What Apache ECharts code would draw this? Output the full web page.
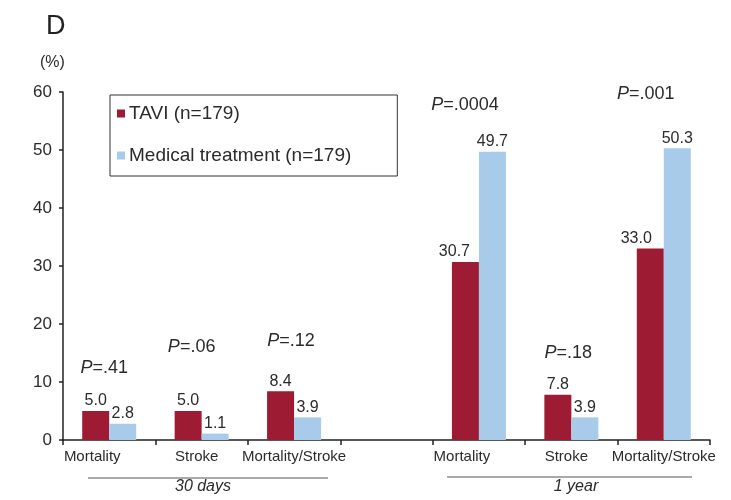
<!DOCTYPE html>
<html>
<head>
<meta charset="utf-8">
<script src="https://cdn.jsdelivr.net/npm/echarts@6/dist/echarts.min.js"></script>
<style>
  html, body { margin: 0; padding: 0; background: #fff; }
  #chart { width: 731px; height: 500px; }
</style>
</head>
<body>
<div id="chart"></div>
<script>
// categories (the empty one is the gap between the two time groups)
const categories = ['Mortality', 'Stroke', 'Mortality/Stroke', '', 'Mortality', 'Stroke', 'Mortality/Stroke']
const tavi = [5.0, 5.0, 8.4, null, 30.7, 7.8, 33.0]
const medical = [2.8, 1.1, 3.9, null, 49.7, 3.9, 50.3]
const pText = ['.41', '.06', '.12', null, '.0004', '.18', '.001']
const pHeight = [12.4, 16.0, 17.1, null, 57.8, 15.0, 59.6]
const yTicks = [0, 10, 20, 30, 40, 50, 60]

// small nudges for labels so they sit like in the figure
const pShift = [-5, -10, -3, 0, -14, -3, -18]
const taviLabelShift = [0, 0, 0, 0, -11, 0, -14]
const catPad = [34, 10, 0, 0, 34, 10, 0]

const RED = '#9e1b34'
const BLUE = '#a9cbea'
const TXT = '#2b2b2b'

const chart = echarts.init(document.getElementById('chart'))

const pData = []
pHeight.forEach((v, i) => {
  if (v == null) return
  pData.push({ value: [i, v], label: { offset: [pShift[i], 0] } })
})

const option = {
  backgroundColor: '#fff',
  animation: false,
  textStyle: { fontFamily: 'Liberation Sans, Arial, sans-serif' },
  grid: { left: 63, right: 21, top: 92, bottom: 60, containLabel: false, outerBoundsMode: 'none' },
  legend: {
    orient: 'vertical',
    left: 110,
    top: 95,
    padding: [9, 46, 11, 7],
    itemWidth: 8,
    itemHeight: 8,
    itemGap: 23,
    borderColor: '#333',
    borderWidth: 1,
    icon: 'rect',
    textStyle: { fontSize: 19, color: TXT, padding: [0, 0, 0, -1] },
    data: ['TAVI (n=179)', 'Medical treatment (n=179)']
  },
  xAxis: {
    type: 'category',
    data: categories.map((c, i) => ({
      value: c,
      textStyle: { padding: [0, catPad[i], 0, 0] }
    })),
    axisLine: { lineStyle: { color: '#222', width: 1.5 } },
    axisTick: { show: true, length: 5, lineStyle: { color: '#222', width: 1.5 } },
    axisLabel: { interval: 0, fontSize: 15, color: TXT, margin: 9 }
  },
  yAxis: {
    type: 'value',
    min: yTicks[0],
    max: yTicks[yTicks.length - 1],
    interval: 10,
    splitLine: { show: false },
    axisLine: { show: true, lineStyle: { color: '#222', width: 1.5 } },
    axisTick: { show: true, length: 4, lineStyle: { color: '#222', width: 1.5 } },
    axisLabel: { fontSize: 17, color: TXT, margin: 11 }
  },
  series: [
    {
      name: 'TAVI (n=179)',
      type: 'bar',
      barWidth: 27,
      barGap: 0,
      itemStyle: { color: RED },
      label: {
        show: true,
        position: 'top',
        distance: 2,
        fontSize: 16,
        color: TXT,
        formatter: p => p.value == null ? '' : p.value.toFixed(1)
      },
      data: tavi.map((v, i) => ({ value: v, label: { offset: [taviLabelShift[i], 0] } }))
    },
    {
      name: 'Medical treatment (n=179)',
      type: 'bar',
      barWidth: 27,
      barGap: 0,
      itemStyle: { color: BLUE },
      label: {
        show: true,
        position: 'top',
        distance: 2,
        fontSize: 16,
        color: TXT,
        formatter: p => p.value == null ? '' : p.value.toFixed(1)
      },
      data: medical
    },
    {
      name: 'p',
      type: 'scatter',
      symbolSize: 0,
      silent: true,
      itemStyle: { opacity: 1, color: TXT },
      label: {
        show: true,
        position: 'inside',
        fontSize: 18,
        color: TXT,
        formatter: p => '{i|P}=' + pText[p.value[0]],
        rich: { i: { fontStyle: 'italic', fontSize: 18, color: TXT } }
      },
      data: pData
    }
  ],
  graphic: [
    { type: 'text', left: 46, top: 13, style: { text: 'D', fontSize: 27, fill: '#222', fontFamily: 'Liberation Sans' } },
    { type: 'text', left: 40, top: 55, style: { text: '(%)', fontSize: 16, fill: TXT, fontFamily: 'Liberation Sans' } },
    { type: 'line', shape: { x1: 88, y1: 478, x2: 328, y2: 478 }, style: { stroke: '#555', lineWidth: 1 } },
    { type: 'line', shape: { x1: 447, y1: 477, x2: 692, y2: 477 }, style: { stroke: '#555', lineWidth: 1 } },
    {
      type: 'text', x: 203, y: 487,
      style: { text: '30 days', fontSize: 16, fontStyle: 'italic', fill: TXT, align: 'center', verticalAlign: 'middle', fontFamily: 'Liberation Sans' }
    },
    {
      type: 'text', x: 576, y: 487,
      style: { text: '1 year', fontSize: 16, fontStyle: 'italic', fill: TXT, align: 'center', verticalAlign: 'middle', fontFamily: 'Liberation Sans' }
    }
  ]
}

chart.setOption(option)
</script>
</body>
</html>
